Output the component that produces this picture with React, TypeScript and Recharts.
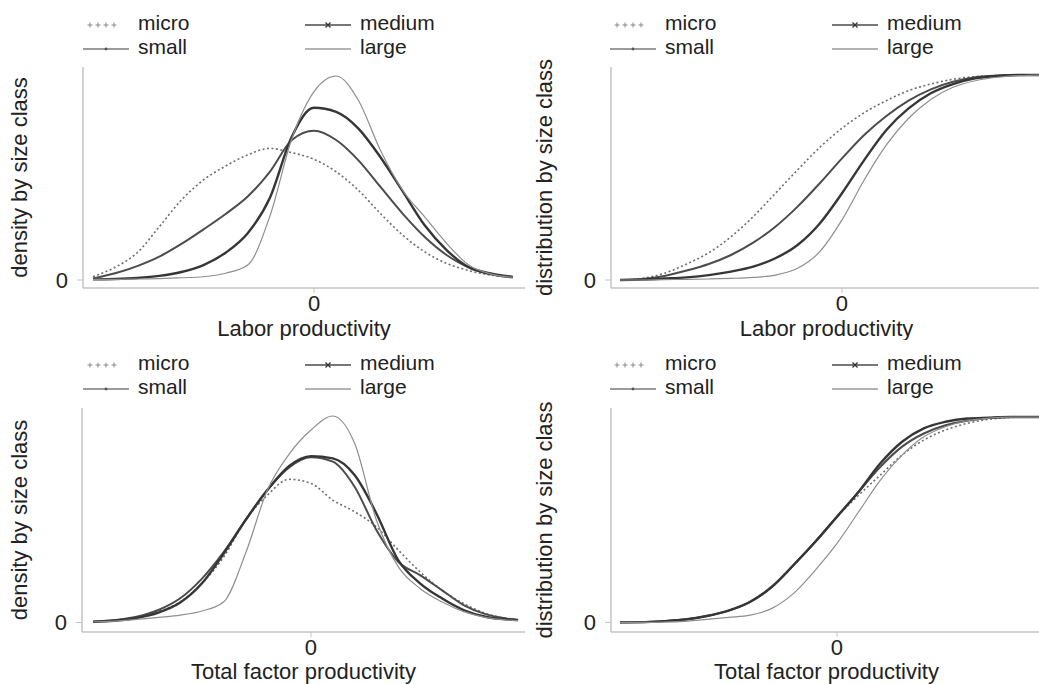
import { LineChart, Line, XAxis, YAxis } from "recharts";

const FONT = '"Liberation Sans", Arial, Helvetica, sans-serif';
const AXIS = "#c4c4c4";
const INK = "#222";

// x grids (productivity, demeaned)
const LP_X = [-4.0, -3.6, -3.2, -2.8, -2.4, -2.0, -1.6, -1.2, -0.8, -0.4, 0, 0.4, 0.8, 1.2, 1.6, 2.0, 2.4, 2.8, 3.2, 3.6];
const TFP_X = [-4.0, -3.6, -3.2, -2.8, -2.4, -2.0, -1.6, -1.2, -0.8, -0.4, 0, 0.4, 0.8, 1.2, 1.6, 2.0, 2.4, 2.8, 3.2, 3.6, 3.8];

// labor productivity, density
const lpDensMicro = [0.016, 0.062, 0.133, 0.26, 0.39, 0.488, 0.556, 0.61, 0.642, 0.621, 0.589, 0.528, 0.439, 0.325, 0.22, 0.138, 0.081, 0.046, 0.024, 0.013];
const lpDensSmall = [0.008, 0.033, 0.068, 0.114, 0.176, 0.247, 0.322, 0.407, 0.528, 0.683, 0.728, 0.683, 0.585, 0.455, 0.325, 0.211, 0.122, 0.062, 0.033, 0.016];
const lpDensMedium = [0.003, 0.005, 0.01, 0.02, 0.039, 0.073, 0.133, 0.228, 0.4, 0.7, 0.84, 0.82, 0.74, 0.6, 0.435, 0.268, 0.146, 0.062, 0.029, 0.013];
const lpDensLarge = [0.003, 0.003, 0.005, 0.007, 0.011, 0.016, 0.033, 0.073, 0.31, 0.69, 0.919, 0.995, 0.878, 0.634, 0.439, 0.309, 0.179, 0.073, 0.029, 0.013];

// labor productivity, cumulative distribution
const lpCdfMicro = [0, 0.008, 0.033, 0.078, 0.133, 0.211, 0.309, 0.423, 0.537, 0.647, 0.74, 0.816, 0.875, 0.924, 0.956, 0.979, 0.992, 0.997, 1.0, 1.0];
const lpCdfSmall = [0, 0.005, 0.02, 0.046, 0.078, 0.122, 0.182, 0.26, 0.358, 0.472, 0.593, 0.707, 0.8, 0.875, 0.93, 0.967, 0.989, 0.997, 1.0, 1.0];
const lpCdfMedium = [0, 0.002, 0.007, 0.013, 0.024, 0.041, 0.065, 0.106, 0.171, 0.276, 0.423, 0.585, 0.732, 0.837, 0.911, 0.956, 0.984, 0.995, 1.0, 1.0];
const lpCdfLarge = [0, 0, 0.002, 0.003, 0.005, 0.008, 0.013, 0.024, 0.057, 0.138, 0.293, 0.488, 0.659, 0.789, 0.881, 0.94, 0.972, 0.989, 0.997, 1.0];

// total factor productivity, density
const tfpDensMicro = [0.004, 0.012, 0.025, 0.053, 0.101, 0.191, 0.32, 0.499, 0.62, 0.697, 0.677, 0.596, 0.539, 0.466, 0.353, 0.247, 0.158, 0.093, 0.045, 0.02, 0.015];
const tfpDensSmall = [0.004, 0.012, 0.028, 0.061, 0.118, 0.214, 0.344, 0.499, 0.645, 0.755, 0.804, 0.783, 0.661, 0.45, 0.296, 0.231, 0.158, 0.085, 0.041, 0.019, 0.012];
const tfpDensMedium = [0.004, 0.009, 0.022, 0.048, 0.097, 0.191, 0.336, 0.499, 0.645, 0.762, 0.81, 0.799, 0.718, 0.531, 0.304, 0.191, 0.118, 0.061, 0.028, 0.015, 0.012];
const tfpDensLarge = [0.004, 0.007, 0.015, 0.025, 0.036, 0.056, 0.101, 0.337, 0.645, 0.82, 0.937, 1.005, 0.872, 0.499, 0.272, 0.166, 0.101, 0.053, 0.025, 0.012, 0.009];

// total factor productivity, cumulative distribution
const tfpCdfMicro = [0.001, 0.002, 0.007, 0.015, 0.032, 0.058, 0.101, 0.174, 0.28, 0.393, 0.515, 0.62, 0.718, 0.815, 0.888, 0.937, 0.969, 0.989, 0.998, 1.0, 1.0];
const tfpCdfSmall = [0.001, 0.002, 0.007, 0.015, 0.032, 0.058, 0.101, 0.174, 0.28, 0.393, 0.515, 0.637, 0.758, 0.856, 0.92, 0.96, 0.982, 0.995, 1.0, 1.0, 1.0];
const tfpCdfMedium = [0.001, 0.002, 0.007, 0.015, 0.032, 0.058, 0.101, 0.174, 0.28, 0.393, 0.515, 0.637, 0.775, 0.88, 0.945, 0.977, 0.993, 0.997, 1.0, 1.0, 1.0];
const tfpCdfLarge = [0.001, 0.001, 0.002, 0.006, 0.015, 0.025, 0.036, 0.069, 0.142, 0.255, 0.385, 0.539, 0.693, 0.815, 0.904, 0.953, 0.982, 0.995, 1.0, 1.0, 1.0];

const SIZES = ["micro", "small", "medium", "large"];

const STYLE: Record<string, any> = {
  micro: { stroke: "#6e6e6e", strokeWidth: 1.6, strokeDasharray: "2 2.5" },
  small: { stroke: "#4c4c4c", strokeWidth: 2 },
  medium: { stroke: "#363636", strokeWidth: 2.4 },
  large: { stroke: "#8e8e8e", strokeWidth: 1.2 },
};

function buildRows(xs: number[], micro: number[], small: number[], medium: number[], large: number[]) {
  return xs.map((x, i) => ({ x, micro: micro[i], small: small[i], medium: medium[i], large: large[i] }));
}

const lpDensRows = buildRows(LP_X, lpDensMicro, lpDensSmall, lpDensMedium, lpDensLarge);
const lpCdfRows = buildRows(LP_X, lpCdfMicro, lpCdfSmall, lpCdfMedium, lpCdfLarge);
const tfpDensRows = buildRows(TFP_X, tfpDensMicro, tfpDensSmall, tfpDensMedium, tfpDensLarge);
const tfpCdfRows = buildRows(TFP_X, tfpCdfMicro, tfpCdfSmall, tfpCdfMedium, tfpCdfLarge);

function Panel(props: any) {
  const { rows, left, top, height, plotTop, right, yAxisWidth, xDomain, yDomain, xLabel, yLabel, yLabelOffset, xTickMargin, xLabelOffset } = props;
  return (
    <div style={{ position: "absolute", left, top }}>
      <LineChart width={530} height={height} data={rows} margin={{ top: plotTop, right, bottom: 0, left: 0 }}>
        <XAxis
          type="number"
          dataKey="x"
          domain={xDomain}
          ticks={[0]}
          allowDataOverflow
          height={52}
          axisLine={{ stroke: AXIS, strokeWidth: 1.5 }}
          tickLine={{ stroke: AXIS }}
          tickSize={5}
          tickMargin={xTickMargin}
          tick={{ fill: INK, fontSize: 22, fontFamily: FONT }}
          label={{ value: xLabel, position: "insideBottom", offset: xLabelOffset, fill: INK, fontSize: 22, fontFamily: FONT }}
        />
        <YAxis
          type="number"
          domain={yDomain}
          ticks={[0]}
          allowDataOverflow
          width={yAxisWidth}
          axisLine={{ stroke: AXIS, strokeWidth: 1.5 }}
          tickLine={{ stroke: AXIS }}
          tickSize={6}
          tickMargin={9}
          tick={{ fill: INK, fontSize: 22, fontFamily: FONT }}
          label={{ value: yLabel, angle: -90, position: "insideLeft", offset: yLabelOffset, fill: INK, fontSize: 22, fontFamily: FONT, style: { textAnchor: "middle" } }}
        />
        {SIZES.map((s) => (
          <Line key={s} type="monotone" dataKey={s} dot={false} activeDot={false} isAnimationActive={false} {...STYLE[s]} />
        ))}
      </LineChart>
    </div>
  );
}

function Swatch({ kind }: { kind: string }) {
  if (kind === "micro") {
    return (
      <svg width={46} height={12}>
        {[7, 15, 23, 31].map((cx) => (
          <g key={cx} stroke="#8a8a8a" strokeWidth={1}>
            <line x1={cx - 2.5} y1={6} x2={cx + 2.5} y2={6} />
            <line x1={cx} y1={3.5} x2={cx} y2={8.5} />
          </g>
        ))}
      </svg>
    );
  }
  const color = kind === "medium" ? "#4a4a4a" : kind === "small" ? "#7a7a7a" : "#9a9a9a";
  return (
    <svg width={46} height={12}>
      <line x1={0} y1={6} x2={46} y2={6} stroke={color} strokeWidth={1.6} />
      {kind === "small" && <circle cx={23} cy={6} r={1.4} fill="#555" />}
      {kind === "medium" && (
        <g stroke="#333" strokeWidth={1.2}>
          <line x1={20.5} y1={3.5} x2={25.5} y2={8.5} />
          <line x1={20.5} y1={8.5} x2={25.5} y2={3.5} />
        </g>
      )}
    </svg>
  );
}

function LegendBlock({ x, y }: { x: number; y: number }) {
  // two columns: micro / medium on first row, small / large on second
  const items = [
    { kind: "micro", col: 0, row: 0 },
    { kind: "medium", col: 1, row: 0 },
    { kind: "small", col: 0, row: 1 },
    { kind: "large", col: 1, row: 1 },
  ];
  return (
    <>
      {items.map((it) => {
        const cx = x + it.col * 222;
        const baseY = y + it.row * 24;
        return (
          <div key={it.kind}>
            <div style={{ position: "absolute", left: cx, top: baseY - 13, height: 12 }}>
              <Swatch kind={it.kind} />
            </div>
            <div
              style={{
                position: "absolute",
                left: cx + 55,
                top: baseY - 18,
                fontSize: 21,
                lineHeight: "21px",
                fontFamily: FONT,
                color: INK,
                whiteSpace: "nowrap",
              }}
            >
              {it.kind}
            </div>
          </div>
        );
      })}
    </>
  );
}

export default function App() {
  return (
    <div style={{ position: "absolute", left: 0, top: 0, width: 1039, height: 684, overflow: "hidden", background: "#fff" }}>
      <LegendBlock x={83} y={30} />
      <LegendBlock x={610} y={30} />
      <LegendBlock x={83} y={370} />
      <LegendBlock x={610} y={370} />

      <Panel rows={lpDensRows} left={0} top={0} height={340} plotTop={67} right={5} yAxisWidth={83}
        xDomain={[-4.181, 3.819]} yDomain={[-0.039, 1.039]} xLabel="Labor productivity"
        yLabel="density by size class" yLabelOffset={19} xTickMargin={2} xLabelOffset={4} />
      <Panel rows={lpCdfRows} left={520} top={0} height={340} plotTop={67} right={8} yAxisWidth={91}
        xDomain={[-4.162, 3.604]} yDomain={[-0.039, 1.039]} xLabel="Labor productivity"
        yLabel="distribution by size class" yLabelOffset={24} xTickMargin={2} xLabelOffset={4} />
      <Panel rows={tfpDensRows} left={0} top={340} height={344} plotTop={68} right={5} yAxisWidth={82}
        xDomain={[-4.202, 3.927]} yDomain={[-0.046, 1.044]} xLabel="Total factor productivity"
        yLabel="density by size class" yLabelOffset={19} xTickMargin={2} xLabelOffset={5} />
      <Panel rows={tfpCdfRows} left={520} top={340} height={344} plotTop={68} right={8} yAxisWidth={91}
        xDomain={[-4.166, 3.779]} yDomain={[-0.046, 1.044]} xLabel="Total factor productivity"
        yLabel="distribution by size class" yLabelOffset={24} xTickMargin={2} xLabelOffset={5} />
    </div>
  );
}
